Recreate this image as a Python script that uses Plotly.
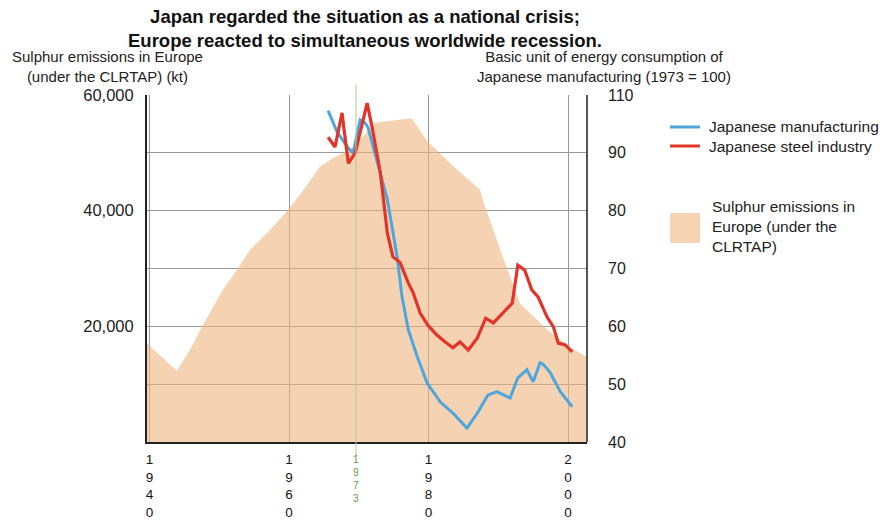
import plotly.graph_objects as go

# Sulphur emissions in Europe under the CLRTAP (kt), left axis
sulphur_year = [1939.6, 1943.9, 1945.8, 1947.5, 1950.5, 1952.5, 1954.4, 1957.3, 1959.7,
                1962.3, 1964.4, 1966.6, 1968.7, 1970.5, 1972.3, 1977.6, 1979.9, 1983.8,
                1987.4, 1987.8, 1990.3, 1993.1, 1997.0, 2000.3, 2002.7]
sulphur_kt = [17100, 12300, 15900, 19900, 26300, 29700, 33200, 36700, 39900,
              43900, 47600, 49300, 50500, 52700, 55200, 56000, 51900, 47400,
              43600, 41800, 33200, 24000, 19400, 16400, 14700]

# Basic unit of energy consumption, Japanese manufacturing (1973 = 100), right axis
mfg_year = [1965.6, 1966.9, 1968.5, 1969.2, 1970.2, 1970.8, 1971.3, 1972.6, 1974.1,
            1975.5, 1976.2, 1977.1, 1978.4, 1979.8, 1981.7, 1983.5, 1985.5, 1987.0,
            1988.5, 1989.8, 1991.7, 1992.8, 1994.1, 1995.0, 1996.0, 1996.4, 1997.4,
            1998.9, 2000.6]
mfg_index = [97.3, 93.6, 90.8, 90.0, 95.7, 95.3, 94.5, 88.8, 81.9,
             72.0, 65.1, 59.4, 54.7, 50.2, 46.9, 45.0, 42.4, 45.0,
             48.1, 48.7, 47.6, 51.1, 52.5, 50.4, 53.7, 53.5, 52.1,
             48.7, 46.1]

# Basic unit of energy consumption, Japanese steel industry, right axis
steel_year = [1965.6, 1966.6, 1967.6, 1968.5, 1969.5, 1971.2, 1971.9, 1973.1, 1974.1,
              1974.9, 1975.9, 1977.1, 1977.8, 1978.8, 1979.9, 1981.2, 1982.4, 1983.5,
              1984.5, 1985.7, 1987.0, 1988.2, 1989.3, 1990.7, 1992.0, 1992.8, 1993.8,
              1994.8, 1995.7, 1997.0, 1997.9, 1998.6, 1999.6, 2000.6]
steel_index = [92.7, 91.0, 96.9, 88.2, 90.0, 98.6, 94.5, 86.5, 76.1,
               72.0, 71.1, 67.5, 65.8, 62.3, 60.2, 58.5, 57.3, 56.3,
               57.3, 55.9, 58.0, 61.4, 60.6, 62.3, 64.0, 70.6, 69.7,
               66.3, 65.1, 61.6, 59.9, 57.1, 56.8, 55.6]

# Axis ticks
x_ticks = [1940, 1960, 1980, 2000]
x_ticktext = ["<br>".join(str(t)) for t in x_ticks]
left_ticks = [0, 10000, 20000, 30000, 40000, 50000, 60000]
left_ticktext = ["", "", "20,000", "", "40,000", "", "60,000"]
right_ticks = [40, 50, 60, 70, 80, 90, 100]
right_ticktext = ["40", "50", "60", "70", "80", "90", "110"]

# Oil-crisis marker
crisis_label = "1973"
crisis_pos = 1969.6

x_range = [1939.64, 2002.72]

FONT = "Liberation Sans, Arial, sans-serif"
BLUE = "#4ea6dc"
RED = "#e3342a"
TAN_FILL = "rgba(238,182,127,0.6)"

fig = go.Figure()

fig.add_trace(go.Scatter(
    x=sulphur_year, y=sulphur_kt, mode="lines", fill="tozeroy",
    fillcolor=TAN_FILL, line=dict(width=0), showlegend=False,
    name="Sulphur emissions in Europe (under the CLRTAP)", yaxis="y",
))
fig.add_trace(go.Scatter(
    x=mfg_year, y=mfg_index, mode="lines", line=dict(color=BLUE, width=3),
    showlegend=False, name="Japanese manufacturing", yaxis="y2",
))
fig.add_trace(go.Scatter(
    x=steel_year, y=steel_index, mode="lines", line=dict(color=RED, width=3.2),
    showlegend=False, name="Japanese steel industry", yaxis="y2",
))

shapes = [
    # 1973 marker line
    dict(type="line", xref="x", yref="paper", x0=crisis_pos, x1=crisis_pos,
         y0=-0.04, y1=1.03, line=dict(color="#a9d18e", width=1), layer="above"),
    # right frame edge
    dict(type="line", xref="paper", yref="paper", x0=1, x1=1, y0=0, y1=1,
         line=dict(color="#555555", width=2)),
    # legend swatches
    dict(type="line", xref="paper", yref="paper", x0=1.1886, x1=1.2568,
         y0=0.9078, y1=0.9078, line=dict(color=BLUE, width=3)),
    dict(type="line", xref="paper", yref="paper", x0=1.1886, x1=1.2568,
         y0=0.853, y1=0.853, line=dict(color=RED, width=3)),
    dict(type="rect", xref="paper", yref="paper", x0=1.1886, x1=1.2568,
         y0=0.5735, y1=0.66, line=dict(width=0), fillcolor="#f5d3b3"),
]


def note(text, x, y, size, xanchor="center", align="center", **kw):
    return dict(text=text, xref="paper", yref="paper", x=x, y=y,
                xanchor=xanchor, yanchor="middle", align=align, showarrow=False,
                font=dict(family=FONT, size=size, color=kw.get("color", "#222")))


annotations = [
    note("<b>Japan regarded the situation as a national crisis;<br>"
         "Europe reacted to simultaneous worldwide recession.</b>",
         0.495, 1.193, 18.5, color="#111"),
    note("Sulphur emissions in Europe<br>(under the CLRTAP) (kt)", -0.0909, 1.0807, 15),
    note("Basic unit of energy consumption of<br>Japanese manufacturing (1973 = 100)",
         1.0386, 1.0807, 15),
    note("Japanese manufacturing", 1.2727, 0.9078, 15.5, xanchor="left"),
    note("Japanese steel industry", 1.2727, 0.853, 15.5, xanchor="left"),
    note("Sulphur emissions in<br>Europe (under the<br>CLRTAP)", 1.2795, 0.6196, 15.5,
         xanchor="left", align="left"),
    dict(text="<br>".join(crisis_label), xref="x", yref="paper", x=crisis_pos,
         y=0, yshift=-10, yanchor="top", showarrow=False,
         font=dict(family=FONT, size=10, color="#5a9a4a")),
]

fig.update_layout(
    width=883, height=525,
    margin=dict(l=147, r=296, t=95, b=83, autoexpand=False),
    plot_bgcolor="white", paper_bgcolor="white",
    font=dict(family=FONT, color="#222"),
    showlegend=False,
    xaxis=dict(range=x_range, tickvals=x_ticks, ticktext=x_ticktext,
               showgrid=True, gridcolor="#999999", gridwidth=1,
               showline=True, linecolor="#222", linewidth=2,
               ticks="", tickfont=dict(size=13.5, color="#111"),
               ticklabelstandoff=4, zeroline=False, automargin=False),
    yaxis=dict(range=[0, 60000], tickvals=left_ticks, ticktext=left_ticktext,
               showgrid=True, gridcolor="#999999", gridwidth=1,
               showline=True, linecolor="#222", linewidth=2, zeroline=False,
               ticks="", tickfont=dict(size=16.5, color="#222"),
               ticklabelstandoff=8, automargin=False),
    yaxis2=dict(range=[40, 100], tickvals=right_ticks, ticktext=right_ticktext,
                overlaying="y", side="right", showgrid=False, zeroline=False,
                showline=False, ticks="", tickfont=dict(size=16, color="#222"),
                ticklabelstandoff=20, automargin=False),
    shapes=shapes,
    annotations=annotations,
)

fig.write_html("out.html")
